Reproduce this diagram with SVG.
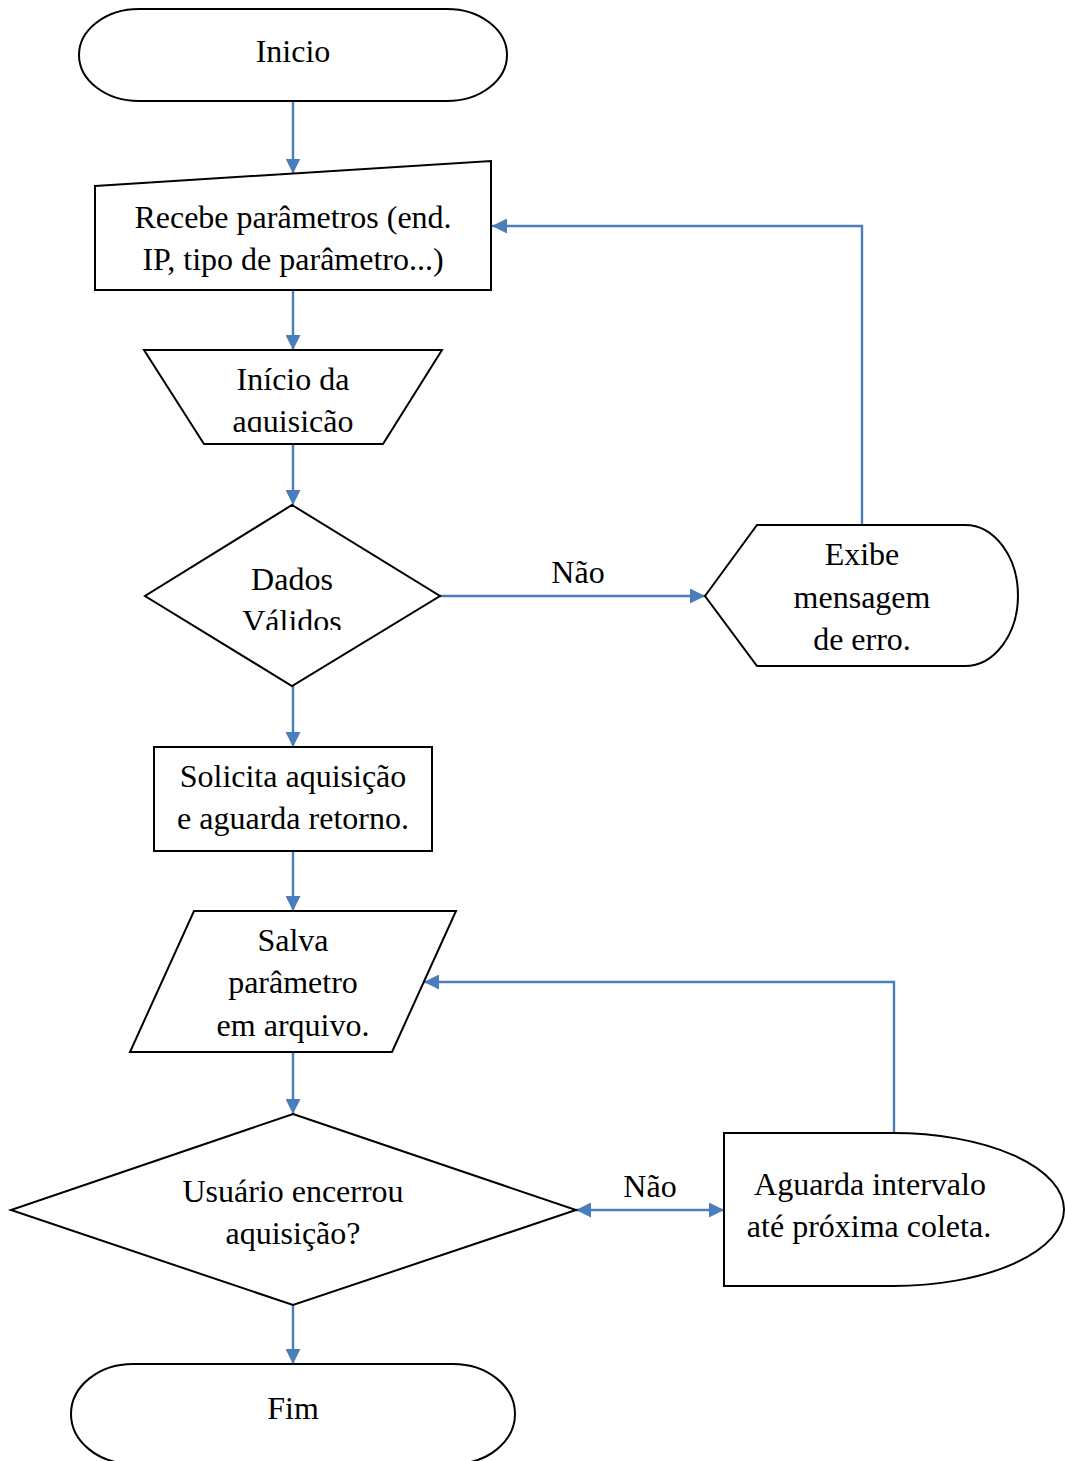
<svg xmlns="http://www.w3.org/2000/svg" width="1065" height="1461" viewBox="0 0 1065 1461">
  <style>
    .shape { fill: #ffffff; stroke: #000000; stroke-width: 2; stroke-linejoin: miter; }
    .label { font-family: "Liberation Serif", "Times New Roman", serif; font-size: 32px; fill: #000000; text-anchor: middle; }
    .conn { fill: none; stroke: #4A7EBB; stroke-width: 2.4; }
  </style>
  <defs>
    <marker id="arrow" viewBox="0 0 15 15" refX="15" refY="7.5" markerWidth="15" markerHeight="15" markerUnits="userSpaceOnUse" orient="auto-start-reverse">
      <path d="M0,0 L15,7.5 L0,15 Z" fill="#4A7EBB"/>
    </marker>
    <clipPath id="clip-inicio-aq">
      <rect x="140" y="340" width="310" height="92"/>
    </clipPath>
    <clipPath id="clip-dados">
      <rect x="140" y="500" width="310" height="130"/>
    </clipPath>
  </defs>

  <rect width="1065" height="1461" fill="#ffffff"/>

  <!-- connectors -->
  <g id="connectors">
    <line class="conn" x1="293" y1="101" x2="293" y2="173.5" marker-end="url(#arrow)"/>
    <line class="conn" x1="293" y1="290" x2="293" y2="350" marker-end="url(#arrow)"/>
    <line class="conn" x1="293" y1="444" x2="293" y2="505" marker-end="url(#arrow)"/>
    <line class="conn" x1="440" y1="596" x2="705" y2="596" marker-end="url(#arrow)"/>
    <polyline class="conn" points="862,525 862,226 492,226" marker-end="url(#arrow)"/>
    <line class="conn" x1="293" y1="686" x2="293" y2="747" marker-end="url(#arrow)"/>
    <line class="conn" x1="293" y1="851" x2="293" y2="911" marker-end="url(#arrow)"/>
    <line class="conn" x1="293" y1="1052" x2="293" y2="1114" marker-end="url(#arrow)"/>
    <line class="conn" x1="576" y1="1210" x2="724" y2="1210" marker-start="url(#arrow)" marker-end="url(#arrow)"/>
    <polyline class="conn" points="894,1133 894,982 424,982" marker-end="url(#arrow)"/>
    <line class="conn" x1="293" y1="1305" x2="293" y2="1364" marker-end="url(#arrow)"/>
    <text class="label" x="578" y="583">Não</text>
    <text class="label" x="650" y="1197">Não</text>
  </g>

  <!-- start terminator -->
  <g id="node-inicio">
    <rect class="shape" x="79" y="9" width="428" height="92" rx="60" ry="46"/>
    <text class="label" x="293" y="62">Inicio</text>
  </g>

  <!-- manual input -->
  <g id="node-recebe">
    <polygon class="shape" points="95,186 491,161 491,290 95,290"/>
    <text class="label" x="293" y="228">Recebe parâmetros (end.</text>
    <text class="label" x="293" y="270">IP, tipo de parâmetro...)</text>
  </g>

  <!-- manual operation -->
  <g id="node-inicio-aquisicao">
    <polygon class="shape" points="144,350 442,350 383,444 204,444"/>
    <g clip-path="url(#clip-inicio-aq)">
      <text class="label" x="293" y="390">Início da</text>
      <text class="label" x="293" y="432">aquisição</text>
    </g>
  </g>

  <!-- decision: valid data -->
  <g id="node-dados-validos">
    <polygon class="shape" points="292,505 440,596 292,686 145,596"/>
    <g clip-path="url(#clip-dados)">
      <text class="label" x="292" y="590">Dados</text>
      <text class="label" x="292" y="632">Válidos</text>
    </g>
  </g>

  <!-- display: error message -->
  <g id="node-exibe-erro">
    <path class="shape" d="M705,596 L757,525 H965 A53,70.5 0 0 1 965,666 H757 Z"/>
    <text class="label" x="862" y="565">Exibe</text>
    <text class="label" x="862" y="608">mensagem</text>
    <text class="label" x="862" y="650">de erro.</text>
  </g>

  <!-- process -->
  <g id="node-solicita">
    <rect class="shape" x="154" y="747" width="278" height="104"/>
    <text class="label" x="293" y="787">Solicita aquisição</text>
    <text class="label" x="293" y="829">e aguarda retorno.</text>
  </g>

  <!-- data -->
  <g id="node-salva">
    <polygon class="shape" points="194,911 456,911 392,1052 130,1052"/>
    <text class="label" x="293" y="951">Salva</text>
    <text class="label" x="293" y="993">parâmetro</text>
    <text class="label" x="293" y="1036">em arquivo.</text>
  </g>

  <!-- decision: user stopped -->
  <g id="node-usuario-encerrou">
    <polygon class="shape" points="293,1114 576,1210 293,1305 11,1210"/>
    <text class="label" x="293" y="1202">Usuário encerrou</text>
    <text class="label" x="293" y="1244">aquisição?</text>
  </g>

  <!-- delay -->
  <g id="node-aguarda">
    <path class="shape" d="M724,1133 H893 A171,76.5 0 0 1 893,1286 H724 Z"/>
    <text class="label" x="870" y="1195">Aguarda intervalo</text>
    <text class="label" x="869" y="1237">até próxima coleta.</text>
  </g>

  <!-- end terminator -->
  <g id="node-fim">
    <rect class="shape" x="71" y="1364" width="444" height="100" rx="62" ry="50"/>
    <text class="label" x="293" y="1419">Fim</text>
  </g>
</svg>
